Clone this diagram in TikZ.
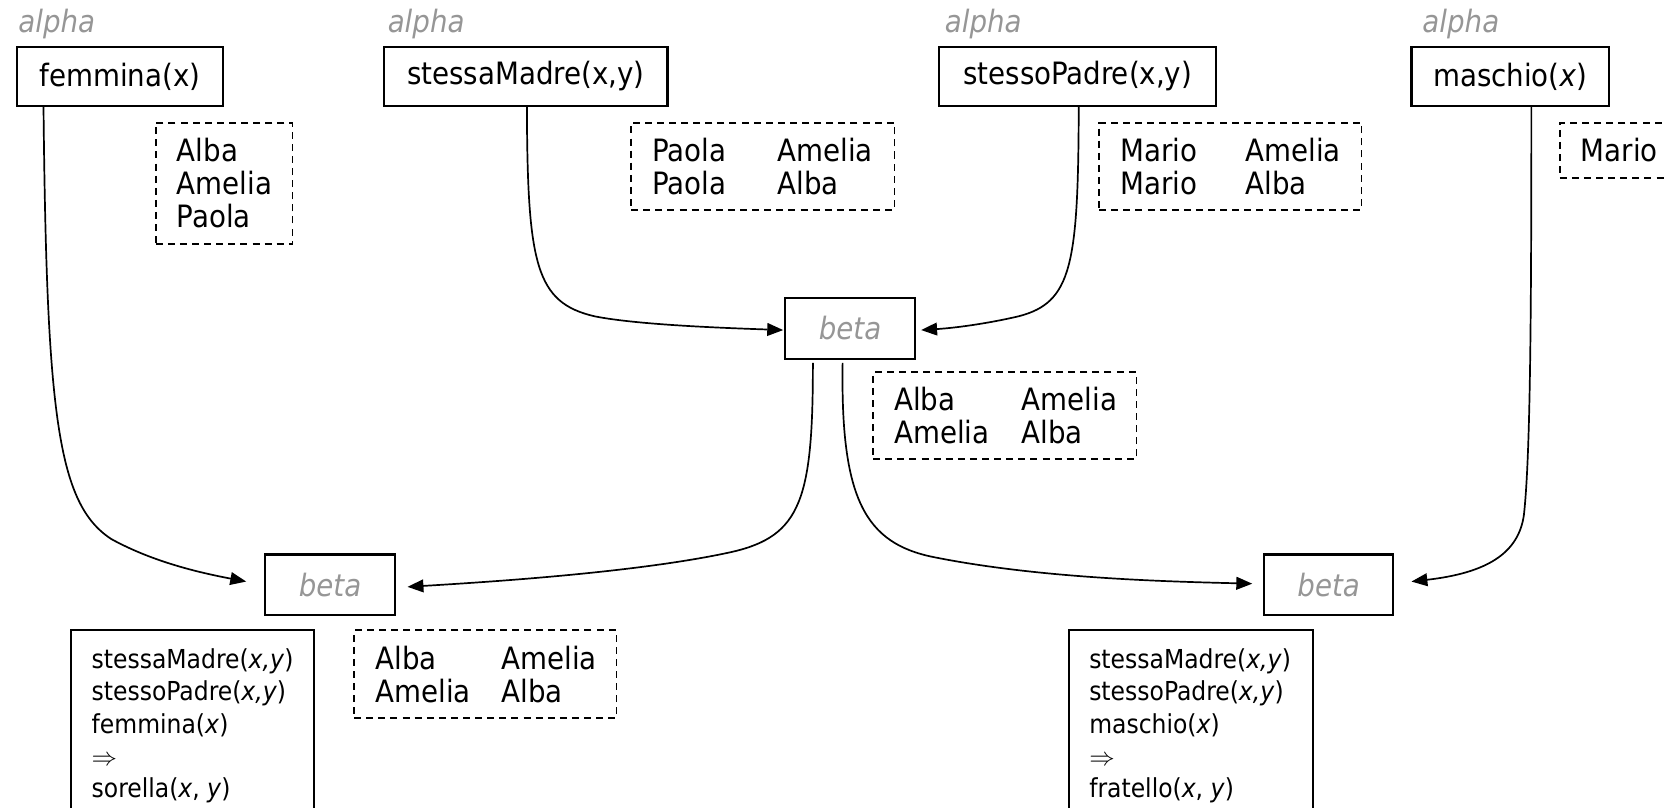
\documentclass[tikz,border=0pt]{standalone}
\usepackage{fontspec}
\setmainfont{DejaVu Sans Condensed}
\usetikzlibrary{arrows.meta,calc}
\definecolor{lbl}{RGB}{150,150,150}
\begin{document}
\begin{tikzpicture}[x=0.5pt,y=-0.5pt,
  bigfont/.style={font=\fontsize{14.5}{15.5}\selectfont},
  pred/.style={draw, line width=1pt, minimum height=28pt, inner sep=0, bigfont},
  lab/.style={text=lbl, inner sep=0, font=\fontsize{14.5}{15.5}\selectfont\itshape, anchor=base west},
  betabox/.style={draw, line width=1pt, minimum width=61pt, minimum height=28.5pt, inner sep=0, text=lbl, font=\fontsize{14.5}{15.5}\selectfont\itshape},
  ext/.style={draw, line width=0.75pt, dash pattern=on 3.3pt off 2.4pt, anchor=north west, inner xsep=10pt, inner ysep=0, align=left, bigfont},
  rulebox/.style={draw, line width=1pt, anchor=north west, minimum height=100pt, inner sep=0},
  ruletext/.style={anchor=north west, inner sep=0, align=left, font=\fontsize{12.3}{15.2}\selectfont},
  conn/.style={line width=0.8pt, -{Triangle[length=7.5pt,width=6pt]}}]
\useasboundingbox (0,0) rectangle (1568,761);
\clip (0,0) rectangle (1568,761);

% top predicates
\node[pred, minimum width=97pt] (fem) at (113,72) {femmina(x)};
\node[pred, minimum width=133.5pt] (smadre) at (495.5,72) {stessaMadre(x,y)};
\node[pred, minimum width=130.5pt] (spadre) at (1015.5,72) {stessoPadre(x,y)};
\node[pred, minimum width=93pt] (masc) at (1423,72) {maschio(\textit{x})};

\node[lab] (la1) at (17,31) {alpha};
\node[lab] (la2) at (365,31) {alpha};
\node[lab] (la3) at (890,31) {alpha};
\node[lab] (la4) at (1340,31) {alpha};

% extensions
\node[ext, text width=44.5pt, minimum height=57pt] (d1) at (146,115) {Alba\\Amelia\\Paola};
\node[ext, text width=104pt, minimum height=41pt] (d2) at (594,115)
  {\makebox[59pt][l]{Paola}Amelia\\\makebox[59pt][l]{Paola}Alba};
\node[ext, text width=103.5pt, minimum height=41pt] (d3) at (1035,115)
  {\makebox[59pt][l]{Mario}Amelia\\\makebox[59pt][l]{Mario}Alba};
\node[ext, text width=105pt, minimum height=26pt] (d4) at (1469,115) {Mario};

% beta nodes
\node[betabox] (mid) at (801,309.5) {beta};
\node[betabox] (betaL) at (311,551) {beta};
\node[betabox] (betaR) at (1252,551) {beta};

\node[ext, text width=104pt, minimum height=41pt] (d5) at (822,350)
  {\makebox[60pt][l]{Alba}Amelia\\\makebox[60pt][l]{Amelia}Alba};
\node[ext, text width=103.5pt, minimum height=41.5pt] (d6) at (333,593)
  {\makebox[59.5pt][l]{Alba}Amelia\\\makebox[59.5pt][l]{Amelia}Alba};

% rules
\node[rulebox, minimum width=114.5pt] (ruleL) at (66,593) {};
\node[ruletext] (ruleLt) at ($(ruleL.north west)+(20,18)$)
  {stessaMadre(\textit{x,y})\\stessoPadre(\textit{x,y})\\femmina(\textit{x})\\$\Rightarrow$\\sorella(\textit{x}, \textit{y})};
\node[rulebox, minimum width=115pt] (ruleR) at (1006,593) {};
\node[ruletext] (ruleRt) at ($(ruleR.north west)+(20,18)$)
  {stessaMadre(\textit{x,y})\\stessoPadre(\textit{x,y})\\maschio(\textit{x})\\$\Rightarrow$\\fratello(\textit{x}, \textit{y})};

% connectors
\draw[conn] ($(fem.south west)+(26,0)$) .. controls (44,390) and (54,475) .. (105,508)
  .. controls (145,530) and (190,540) .. ($(betaL.west)+(-17,-3)$);
\draw[conn] ($(smadre.south)+(1,0)$) .. controls (497,250) and (505,285) .. (560,298)
  .. controls (600,306) and (680,309) .. ($(mid.west)+(-1,1.5)$);
\draw[conn] ($(spadre.south)+(1,0)$) .. controls (1016,250) and (1010,285) .. (960,298)
  .. controls (930,305) and (900,309) .. ($(mid.east)+(5,1.5)$);
\draw[conn] ($(mid.south)+(-35,3)$) .. controls (766,470) and (755,505) .. (690,520)
  .. controls (600,540) and (450,549) .. ($(betaL.east)+(11,2)$);
\draw[conn] ($(mid.south)+(-7,3)$) .. controls (792,470) and (815,512) .. (880,525)
  .. controls (980,545) and (1100,548) .. ($(betaR.west)+(-10,-1)$);
\draw[conn] ($(masc.south)+(20,0)$) .. controls (1443,300) and (1442,430) .. (1436,485)
  .. controls (1431,522) and (1400,540) .. ($(betaR.east)+(16,-3)$);
\end{tikzpicture}
\end{document}
